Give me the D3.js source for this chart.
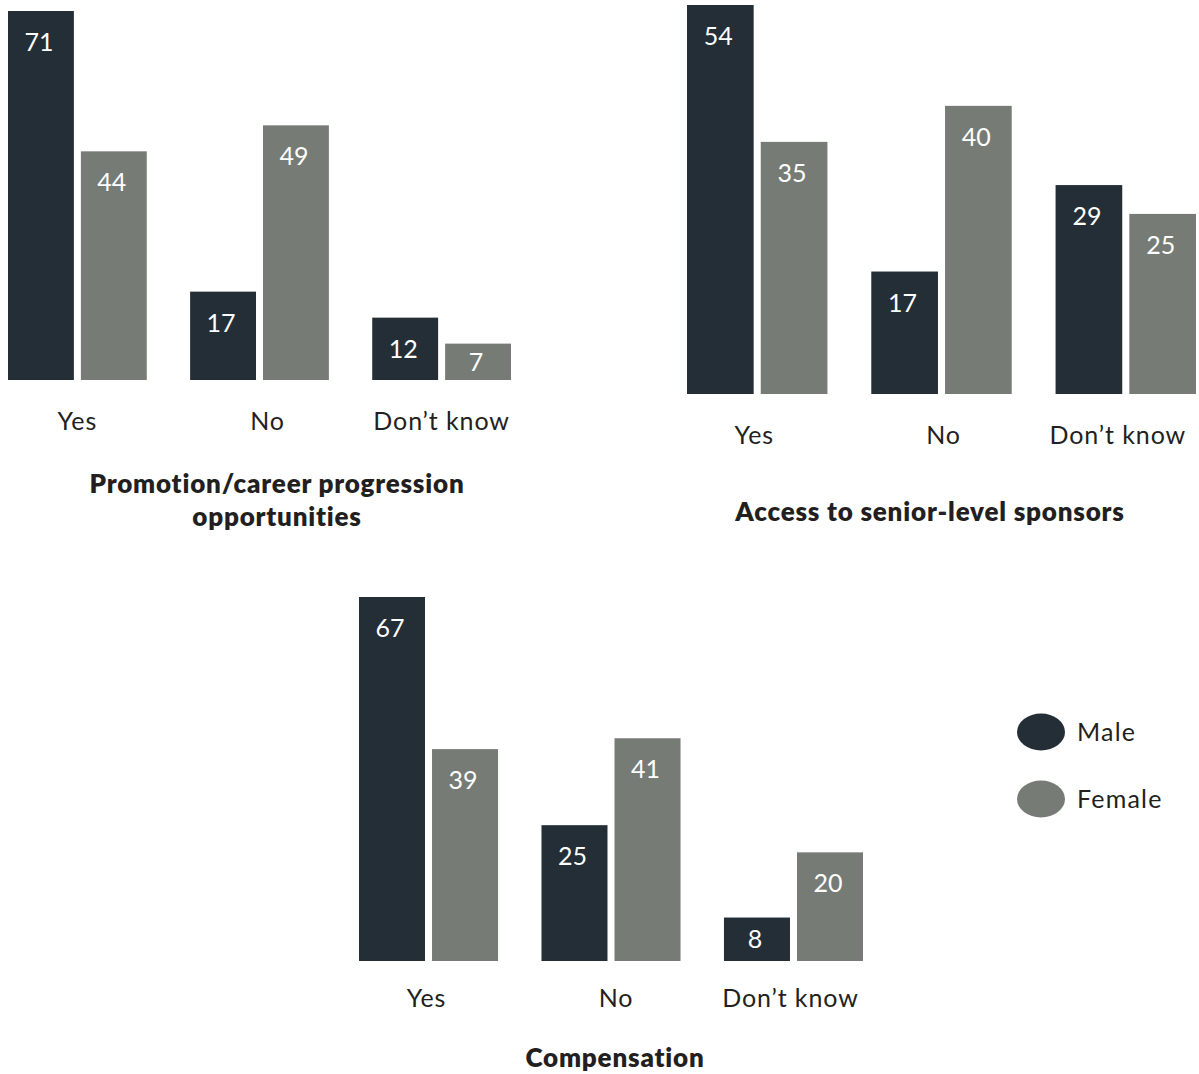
<!DOCTYPE html>
<html>
<head>
<meta charset="utf-8">
<script src="https://cdn.jsdelivr.net/npm/d3@7"></script>
<style>
  html, body { margin: 0; padding: 0; background: #ffffff; }
  svg { display: block; }
</style>
</head>
<body>
<svg id="chart" width="1199" height="1074"></svg>
<script>
// ---------- data ----------
const categories = ["Yes", "No", "Don\u2019t know"];
const series = ["Male", "Female"];

const promotionMale   = [71, 17, 12];
const promotionFemale = [44, 49, 7];

const sponsorsMale    = [54, 17, 29];
const sponsorsFemale  = [35, 40, 25];

const compensationMale   = [67, 25, 8];
const compensationFemale = [39, 41, 20];

const titlePromotion    = ["Promotion/career progression", "opportunities"];
const titleSponsors     = ["Access to senior-level sponsors"];
const titleCompensation = ["Compensation"];

// ---------- styles ----------
const colors = { Male: "#242e37", Female: "#767c75" };
const textColor = "#231f20";
const fontFamily = "Lato, 'Open Sans', sans-serif";

const svg = d3.select("#chart");

// panel layout (pixels)
const panels = [
  { male: promotionMale, female: promotionFemale, title: titlePromotion,
    x0: 8, x1: 511, yTop: 11, yBottom: 380, labelY: 430, labelNudge: [0, 8, 0],
    titleX: 277, titleY: 493, titleLH: 33 },
  { male: sponsorsMale, female: sponsorsFemale, title: titleSponsors,
    x0: 687, x1: 1196, yTop: 5, yBottom: 394, labelY: 444, labelNudge: [-3, 2, -8],
    titleX: 930, titleY: 521, titleLH: 33 },
  { male: compensationMale, female: compensationFemale, title: titleCompensation,
    x0: 359, x1: 863, yTop: 597, yBottom: 961, labelY: 1007, labelNudge: [-2, 5, -3],
    titleX: 615, titleY: 1067, titleLH: 33 }
];

panels.forEach(p => {
  const rows = categories.map((c, i) => ({ cat: c, Male: p.male[i], Female: p.female[i] }));
  const maxV = d3.max(rows, r => Math.max(r.Male, r.Female));

  const x = d3.scaleBand().domain(categories).range([p.x0, p.x1]).paddingInner(0.238).paddingOuter(0);
  const xi = d3.scaleBand().domain(series).range([0, x.bandwidth()]).paddingInner(0.096).paddingOuter(0);
  const y = d3.scaleLinear().domain([0, maxV]).range([p.yBottom, p.yTop]);

  const g = svg.append("g");

  const groups = g.selectAll("g.grp").data(rows).join("g")
    .attr("class", "grp")
    .attr("transform", d => `translate(${x(d.cat)},0)`);

  const bars = groups.selectAll("g.bar")
    .data(d => series.map(s => ({ s, v: d[s] })))
    .join("g").attr("class", "bar");

  bars.append("rect")
    .attr("x", d => xi(d.s))
    .attr("y", d => y(d.v))
    .attr("width", xi.bandwidth())
    .attr("height", d => y(0) - y(d.v))
    .attr("fill", d => colors[d.s]);

  bars.append("text")
    .attr("x", d => xi(d.s) + xi.bandwidth() / 2 - 2)
    .attr("y", d => Math.min(y(d.v) + 40, (y(d.v) + y(0)) / 2 + 9))
    .attr("text-anchor", "middle")
    .attr("fill", "#ffffff")
    .attr("font-family", fontFamily)
    .attr("font-size", 25)
    .text(d => d.v);

  // category labels (axis without lines)
  const axis = d3.axisBottom(x).tickSize(0).tickPadding(0);
  const ax = g.append("g")
    .attr("transform", `translate(0,${p.labelY})`)
    .call(axis);
  ax.select(".domain").remove();
  ax.selectAll("text")
    .attr("dy", 0)
    .attr("y", 0)
    .attr("x", (d, i) => p.labelNudge[i])
    .attr("fill", textColor)
    .attr("font-family", fontFamily)
    .attr("font-size", 25)
    .attr("letter-spacing", "0.9px");

  // title
  const t = g.append("text")
    .attr("text-anchor", "middle")
    .attr("fill", textColor)
    .attr("font-family", fontFamily)
    .attr("font-weight", 800)
    .attr("font-size", 26)
    .attr("letter-spacing", "0.8px");
  p.title.forEach((line, i) => {
    t.append("tspan")
      .attr("x", p.titleX)
      .attr("y", p.titleY + i * p.titleLH)
      .text(line);
  });
});

// ---------- legend ----------
const legendY = d3.scalePoint().domain(series).range([732, 799]);
const legend = svg.append("g");
const li = legend.selectAll("g").data(series).join("g")
  .attr("transform", d => `translate(0,${legendY(d)})`);
li.append("ellipse")
  .attr("cx", 1041).attr("cy", 0)
  .attr("rx", 24).attr("ry", 18.5)
  .attr("fill", d => colors[d]);
li.append("text")
  .attr("x", 1077).attr("y", 9)
  .attr("fill", textColor)
  .attr("font-family", fontFamily)
  .attr("font-size", 25)
  .attr("letter-spacing", "1.2px")
  .text(d => d);
</script>
</body>
</html>
